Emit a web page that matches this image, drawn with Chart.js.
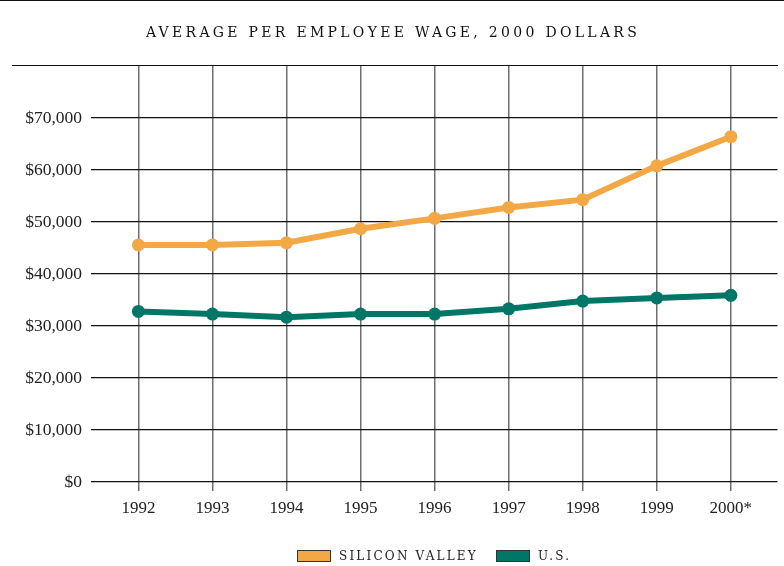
<!DOCTYPE html>
<html>
<head>
<meta charset="utf-8">
<script src="https://cdn.jsdelivr.net/npm/chart.js@4"></script>
<style>
  body { margin: 0; background: #fff; }
  #wrap { position: relative; width: 784px; height: 566px; font-family: "Liberation Serif", "DejaVu Serif", serif; color: #222; }
  #wrap canvas { position: absolute; left: 0; top: 0; }
  .rule-top { position: absolute; left: 0; top: 0; width: 784px; height: 0; border-top: 1.5px solid #111; }
  .rule-plot { position: absolute; left: 12px; top: 65px; width: 766px; height: 0; border-top: 1.5px solid #111; }
  .title { position: absolute; left: 1px; top: 24px; width: 784px; text-align: center; font-family: "DejaVu Serif", serif; font-size: 14px; letter-spacing: 3.3px; color: #111; }
  .legend { position: absolute; left: 297px; top: 549px; display: flex; align-items: center; font-family: "DejaVu Serif", serif; font-size: 12px; letter-spacing: 2.2px; color: #222; }
  .legend .box { display: inline-block; width: 32px; height: 10px; border: 1px solid #333; margin-right: 8px; }
  .legend .item { display: flex; align-items: center; margin-right: 18px; }
</style>
</head>
<body>
<div id="wrap">
  <canvas id="wageChart" width="784" height="566"></canvas>
  <div class="rule-top"></div>
  <div class="rule-plot"></div>
  <div class="title">AVERAGE PER EMPLOYEE WAGE, 2000 DOLLARS</div>
  <div class="legend" id="legend"></div>
</div>
<script>
// --- 데이터 ---
const years = [1992, 1993, 1994, 1995, 1996, 1997, 1998, 1999, 2000];
const yearLabels = ['1992', '1993', '1994', '1995', '1996', '1997', '1998', '1999', '2000*'];
const siliconValley = [45600, 45600, 46000, 48700, 50700, 52800, 54300, 60800, 66400];
const usWage = [32800, 32300, 31700, 32300, 32300, 33300, 34800, 35400, 35900];
const seriesNames = ['SILICON VALLEY', 'U.S.'];
const seriesColors = ['#F2A945', '#007766'];

const serif = '"Liberation Serif", "DejaVu Serif", serif';

function toPoints(values) {
    return values.map((v, i) => ({ x: years[i], y: v }));
}

// 범례 (HTML)
document.getElementById('legend').innerHTML = seriesNames.map((name, i) => `
    <span class="item"><span class="box" style="background:${seriesColors[i]}"></span>${name}</span>
`).join('');

const ctx = document.getElementById('wageChart').getContext('2d');
new Chart(ctx, {
    type: 'line',
    data: {
        datasets: [siliconValley, usWage].map((values, i) => ({
            label: seriesNames[i],
            data: toPoints(values),
            borderColor: seriesColors[i],
            backgroundColor: seriesColors[i],
            borderWidth: 6,
            pointRadius: 6.5,
            pointHoverRadius: 6.5,
            pointBorderWidth: 0,
            tension: 0
        }))
    },
    options: {
        responsive: false,
        animation: false,
        layout: { padding: { top: 66, right: 6, left: 0, bottom: 0 } },
        plugins: {
            legend: { display: false },
            title: { display: false },
            tooltip: { enabled: false }
        },
        scales: {
            x: {
                type: 'linear',
                min: 1992 - 0.64,
                max: 2000 + 0.63,
                afterBuildTicks: scale => { scale.ticks = years.map(v => ({ value: v })); },
                afterFit: scale => { scale.height = 84; },
                border: { display: false },
                grid: { color: '#6e6e6e', lineWidth: 1.5, tickLength: 9 },
                ticks: {
                    autoSkip: false,
                    maxRotation: 0,
                    padding: 7,
                    color: '#222',
                    font: { family: serif, size: 17 },
                    callback: value => yearLabels[years.indexOf(value)] || ''
                }
            },
            y: {
                min: 0,
                max: 80000,
                afterFit: scale => { scale.width = 91; },
                border: { display: false },
                grid: {
                    drawTicks: false,
                    lineWidth: 1.3,
                    color: c => (c.tick && c.tick.value === 80000) ? 'rgba(0,0,0,0)' : '#111'
                },
                ticks: {
                    stepSize: 10000,
                    padding: 9,
                    color: '#222',
                    font: { family: serif, size: 17.5 },
                    callback: value => value === 80000 ? '' : '$' + value.toLocaleString('en-US')
                }
            }
        }
    }
});
</script>
</body>
</html>
